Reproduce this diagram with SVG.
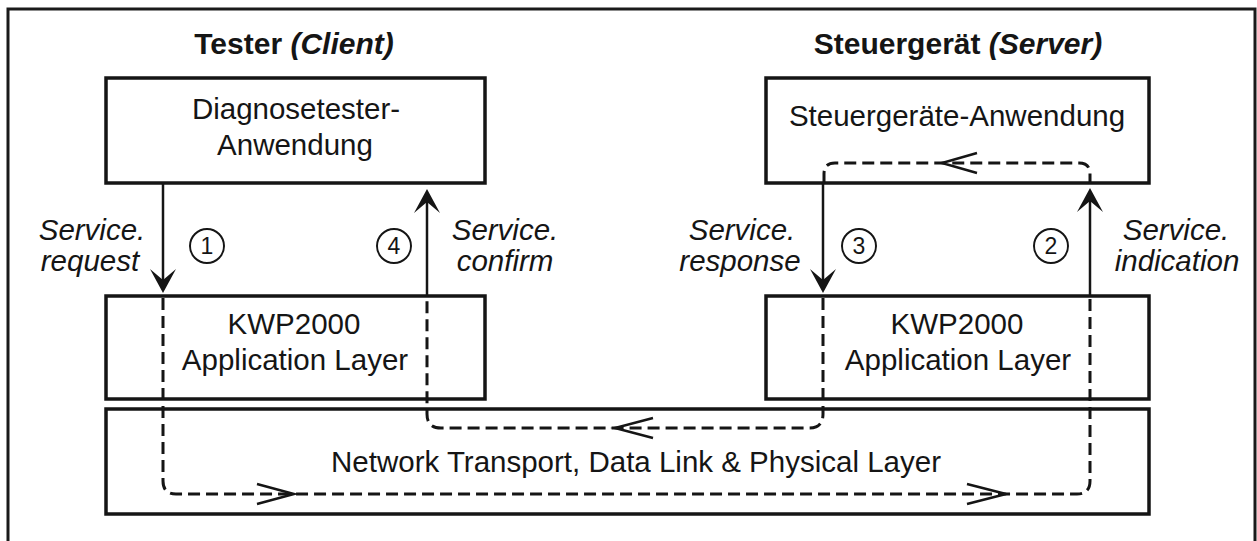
<svg xmlns="http://www.w3.org/2000/svg" width="1257" height="541" viewBox="0 0 1257 541">
<style>
.frame{fill:none;stroke:#1a1a1a;stroke-width:3}
.box{fill:none;stroke:#151515;stroke-width:3.5}
.dash{fill:none;stroke:#151515;stroke-width:3;stroke-dasharray:12 6}
.solid{fill:none;stroke:#151515;stroke-width:2.5}
.open{fill:none;stroke:#151515;stroke-width:2.5;stroke-linejoin:miter}
.circ{fill:#fff;stroke:#151515;stroke-width:2}
text{font-family:"Liberation Sans",Arial,sans-serif;fill:#151515;text-anchor:middle}
.title{font-size:30px;font-weight:bold}
.lbl{font-size:29.5px}
.it{font-style:italic}
.num{font-size:23px}
</style>
<defs>
<marker id="ah" markerUnits="userSpaceOnUse" viewBox="-26 -14 28 28" markerWidth="28" markerHeight="28" refX="-4" refY="0" orient="auto">
<path d="M0,0 L-24,-13 L-13,0 L-24,13 Z" fill="#151515"/>
</marker>
</defs>
<rect x="0" y="0" width="1257" height="541" fill="#fff"/>
<path class="frame" d="M8,541 V9 H1255 V541"/>
<g id="title-client"><text class="title" x="294" y="54">Tester <tspan class="it">(Client)</tspan></text></g>
<g id="title-server"><text class="title" x="958" y="54">Steuergerät <tspan class="it">(Server)</tspan></text></g>
<g id="tester-app">
<rect class="box" x="106" y="78" width="379" height="105"/>
<text class="lbl" x="296" y="119">Diagnosetester-</text>
<text class="lbl" x="295" y="155">Anwendung</text>
</g>
<g id="ecu-app">
<rect class="box" x="766" y="78" width="383" height="105"/>
<text class="lbl" x="957" y="126">Steuergeräte-Anwendung</text>
</g>
<g id="tester-kwp">
<rect class="box" x="106" y="296" width="379" height="103"/>
<text class="lbl" x="294" y="334">KWP2000</text>
<text class="lbl" x="295" y="370">Application Layer</text>
</g>
<g id="ecu-kwp">
<rect class="box" x="766" y="296" width="383" height="103"/>
<text class="lbl" x="957" y="334">KWP2000</text>
<text class="lbl" x="958" y="370">Application Layer</text>
</g>
<g id="network">
<rect class="box" x="106" y="409" width="1043" height="105"/>
<text class="lbl" x="636" y="472">Network Transport, Data Link &amp; Physical Layer</text>
</g>
<g id="connectors">
<path class="dash" d="M163,298 V481 Q163,494 176,494 H1077 Q1090,494 1090,481 V298"/>
<path class="dash" d="M824,183 V174 Q824,163 835,163 H1079 Q1090,163 1090,174 V183"/>
<path class="dash" d="M823,298 V414 Q823,428 809,428 H441 Q427,428 427,414 V298"/>
<path class="open" d="M257,484 L294,494 L257,504"/>
<path class="open" d="M967,484 L1006,494 L967,504"/>
<path class="open" d="M653,418 L615,428 L653,438"/>
<path class="open" d="M977,153 L942,163 L977,173"/>
<path class="solid" d="M163,183 V289" marker-end="url(#ah)"/>
<path class="solid" d="M823,183 V289" marker-end="url(#ah)"/>
<path class="solid" d="M1090,297 V192" marker-end="url(#ah)"/>
<path class="solid" d="M427,297 V193" marker-end="url(#ah)"/>
</g>
<g id="label-request"><text class="lbl it" x="92" y="240">Service.</text><text class="lbl it" x="90" y="271">request</text></g>
<g id="label-confirm"><text class="lbl it" x="505" y="240">Service.</text><text class="lbl it" x="505" y="271">confirm</text></g>
<g id="label-response"><text class="lbl it" x="742" y="240">Service.</text><text class="lbl it" x="740" y="271">response</text></g>
<g id="label-indication"><text class="lbl it" x="1176" y="240">Service.</text><text class="lbl it" x="1177" y="271">indication</text></g>
<g id="step1"><circle class="circ" cx="207" cy="246" r="17"/><text class="num" x="207" y="254">1</text></g>
<g id="step4"><circle class="circ" cx="394" cy="246" r="17"/><text class="num" x="394" y="254">4</text></g>
<g id="step3"><circle class="circ" cx="859" cy="246" r="17"/><text class="num" x="859" y="254">3</text></g>
<g id="step2"><circle class="circ" cx="1051" cy="246" r="17"/><text class="num" x="1051" y="254">2</text></g>
</svg>
